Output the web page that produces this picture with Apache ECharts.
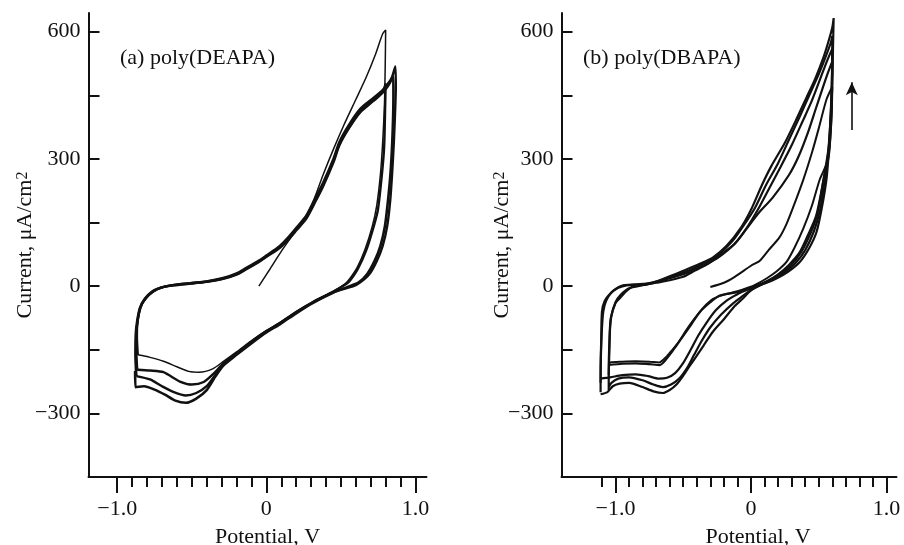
<!DOCTYPE html>
<html>
<head>
<meta charset="utf-8">
<script src="https://cdn.jsdelivr.net/npm/echarts@6/dist/echarts.min.js"></script>
<style>html,body{margin:0;padding:0;background:#fff;}#c{width:904px;height:545px;}</style>
</head>
<body>
<div id="c"></div>
<script>
// ---- tick values / labels ----
const yTickValues = [-300, -150, 0, 150, 300, 450, 600];
const yLabelValues = [-300, 0, 300, 600];
const xMajorValues = [-1.0, 0, 1.0];
const xMinorValuesA = [-1.0,-0.9,-0.8,-0.7,-0.6,-0.5,-0.4,-0.3,-0.2,-0.1,0,0.1,0.2,0.3,0.4,0.5,0.6,0.7,0.8,0.9,1.0];
const xMinorValuesB = [-1.1,-1.0,-0.9,-0.8,-0.7,-0.6,-0.5,-0.4,-0.3,-0.2,-0.1,0,0.1,0.2,0.3,0.4,0.5,0.6,0.7,0.8,0.9,1.0];
const panelTitles = ['(a) poly(DEAPA)', '(b) poly(DBAPA)'];
const arrowB = [[0.744, 368], [0.744, 481]];

// ---- panel (a) poly(DEAPA): potential V, current uA/cm2 ----
const loopA1 = [
[-0.05,0],[0.02,38],[0.10,82],[0.20,132],[0.27,168],[0.32,205],[0.38,262],[0.45,323],[0.52,380],[0.60,440],[0.67,493],[0.73,545],[0.78,595],[0.80,604],
[0.797,520],[0.792,430],[0.78,340],[0.765,264],[0.74,190],[0.71,141],[0.66,85],[0.61,45],[0.56,18],[0.53,6],
[0.45,-12],[0.31,-37],[0.20,-60],[0.09,-86],[0.0,-105],[-0.09,-126],[-0.20,-155],[-0.29,-178],[-0.36,-195],[-0.45,-203],[-0.52,-201],[-0.60,-190],[-0.69,-177],[-0.78,-168],[-0.862,-162]
];
const loopA2 = [
[-0.862,-162],[-0.868,-120],[-0.866,-90],[-0.855,-65],[-0.835,-42],[-0.805,-27],[-0.76,-12],[-0.70,-3],[-0.62,3],[-0.50,7],[-0.40,11],[-0.29,18],[-0.20,28],[-0.134,41],[-0.05,58],[0.0,70],[0.089,92],[0.15,113],[0.20,134],[0.268,162],[0.33,203],[0.38,238],[0.45,296],[0.49,335],[0.55,372],[0.63,412],[0.716,438],[0.78,458],[0.80,478],
[0.797,430],[0.79,330],[0.775,264],[0.748,180],[0.72,141],[0.67,85],[0.615,42],[0.565,15],[0.54,6],
[0.45,-13],[0.31,-38],[0.20,-61],[0.09,-87],[0.0,-106],[-0.09,-128],[-0.20,-158],[-0.29,-183],[-0.35,-205],[-0.42,-226],[-0.50,-232],[-0.58,-225],[-0.69,-203],[-0.78,-199],[-0.866,-197]
];
const loopA3 = [
[-0.866,-197],[-0.872,-150],[-0.87,-105],[-0.862,-80],[-0.845,-50],[-0.81,-29],[-0.76,-13],[-0.70,-3],[-0.62,2],[-0.50,6],[-0.40,10],[-0.29,17],[-0.20,27],[-0.134,40],[-0.05,57],[0.0,69],[0.089,90],[0.15,111],[0.20,131],[0.268,159],[0.33,200],[0.38,235],[0.45,292],[0.49,332],[0.55,370],[0.63,410],[0.716,436],[0.78,456],[0.83,480],[0.865,518],
[0.868,470],[0.865,428],[0.855,340],[0.843,264],[0.83,200],[0.81,141],[0.78,95],[0.74,59],[0.69,28],[0.63,9],[0.584,0],
[0.45,-14],[0.31,-39],[0.20,-62],[0.09,-88],[0.0,-107],[-0.09,-130],[-0.20,-160],[-0.29,-186],[-0.34,-208],[-0.40,-236],[-0.47,-252],[-0.54,-258],[-0.62,-250],[-0.70,-236],[-0.78,-220],[-0.872,-212]
];
const loopA4 = [
[-0.872,-212],[-0.878,-160],[-0.875,-110],[-0.865,-80],[-0.848,-52],[-0.815,-30],[-0.77,-14],[-0.71,-4],[-0.63,2],[-0.51,7],[-0.40,11],[-0.29,19],[-0.20,30],[-0.134,43],[-0.05,60],[0.0,72],[0.089,94],[0.15,116],[0.20,137],[0.268,166],[0.33,208],[0.38,243],[0.45,300],[0.49,340],[0.55,378],[0.63,418],[0.716,443],[0.78,462],[0.83,484],[0.85,496],
[0.852,450],[0.85,400],[0.843,330],[0.832,264],[0.815,200],[0.795,141],[0.765,95],[0.725,59],[0.675,28],[0.62,9],[0.575,2],
[0.45,-15],[0.31,-40],[0.20,-64],[0.09,-90],[0.0,-109],[-0.09,-132],[-0.20,-162],[-0.29,-188],[-0.34,-212],[-0.40,-245],[-0.47,-265],[-0.54,-275],[-0.61,-270],[-0.68,-256],[-0.75,-244],[-0.82,-236],[-0.878,-238],[-0.88,-200]
];

// ---- panel (b) poly(DBAPA) ----
const loopB1 = [
[-0.30,-2],[-0.20,8],[-0.12,22],[0.0,48],[0.065,60],[0.13,85],[0.21,115],[0.26,145],[0.31,185],[0.385,250],[0.45,315],[0.50,372],[0.557,440],[0.60,470],
[0.595,400],[0.58,330],[0.56,290],[0.508,252],[0.45,190],[0.385,135],[0.32,90],[0.262,57],[0.19,35],[0.114,18],[0.03,3],[-0.033,-5],[-0.10,-12],[-0.20,-20],[-0.28,-30],[-0.35,-50],[-0.42,-78],[-0.48,-105],[-0.53,-130],[-0.58,-150],[-0.62,-165],[-0.68,-180],[-0.75,-178],[-0.85,-177],[-0.95,-178],[-1.04,-180],[-1.05,-185]
];
const loopB2 = [
[-1.05,-210],[-1.045,-150],[-1.04,-100],[-1.03,-70],[-1.00,-38],[-0.96,-20],[-0.90,-5],[-0.80,2],[-0.70,8],[-0.60,14],[-0.50,22],[-0.43,34],[-0.33,50],[-0.23,73],[-0.12,100],[-0.033,135],[0.05,170],[0.163,210],[0.28,262],[0.35,305],[0.42,362],[0.48,420],[0.53,468],[0.57,505],[0.60,530],
[0.598,460],[0.59,380],[0.575,310],[0.53,240],[0.48,165],[0.42,120],[0.36,80],[0.28,50],[0.20,28],[0.12,12],[0.04,0],[-0.03,-6],[-0.10,-14],[-0.23,-22],[-0.30,-38],[-0.38,-62],[-0.44,-90],[-0.50,-117],[-0.55,-140],[-0.60,-162],[-0.673,-186],[-0.75,-184],[-0.85,-182],[-0.95,-183],[-1.05,-186]
];
const loopB3 = [
[-1.11,-228],[-1.108,-170],[-1.10,-100],[-1.09,-60],[-1.07,-35],[-1.03,-15],[-0.98,-4],[-0.92,2],[-0.80,4],[-0.68,12],[-0.56,22],[-0.45,34],[-0.33,52],[-0.24,68],[-0.12,100],[-0.03,138],[0.05,180],[0.13,228],[0.22,282],[0.30,332],[0.38,388],[0.45,438],[0.51,488],[0.56,530],[0.60,560],
[0.597,480],[0.588,400],[0.57,320],[0.535,252],[0.49,170],[0.44,125],[0.37,80],[0.29,48],[0.21,28],[0.13,13],[0.05,2],[-0.03,-9],[-0.10,-19],[-0.18,-34],[-0.26,-57],[-0.33,-87],[-0.39,-117],[-0.44,-147],[-0.50,-181],[-0.56,-205],[-0.62,-216],[-0.68,-218],[-0.76,-212],[-0.85,-208],[-0.95,-210],[-1.04,-215],[-1.11,-218]
];
const loopB4 = [
[-1.05,-245],[-1.05,-200],[-1.045,-130],[-1.035,-76],[-1.00,-40],[-0.97,-29],[-0.92,-12],[-0.87,-1],[-0.77,4],[-0.65,14],[-0.55,26],[-0.45,38],[-0.34,55],[-0.25,72],[-0.14,105],[-0.05,145],[0.03,185],[0.11,238],[0.20,290],[0.28,345],[0.36,400],[0.43,450],[0.50,500],[0.55,540],[0.59,575],[0.60,590],
[0.598,500],[0.59,420],[0.575,330],[0.545,252],[0.51,180],[0.465,130],[0.40,85],[0.33,55],[0.25,33],[0.17,17],[0.08,4],[0.0,-9],[-0.06,-23],[-0.13,-40],[-0.22,-67],[-0.30,-97],[-0.36,-127],[-0.42,-162],[-0.47,-192],[-0.53,-218],[-0.59,-232],[-0.65,-238],[-0.72,-232],[-0.80,-222],[-0.90,-215],[-0.98,-218],[-1.03,-228],[-1.05,-238]
];
const loopB5 = [
[-1.11,-250],[-1.11,-200],[-1.105,-120],[-1.10,-60],[-1.08,-35],[-1.04,-18],[-0.99,-5],[-0.944,2],[-0.85,4],[-0.73,8],[-0.60,23],[-0.485,38],[-0.36,55],[-0.28,68],[-0.18,95],[-0.07,140],[0.0,180],[0.08,238],[0.15,283],[0.25,338],[0.33,390],[0.41,445],[0.475,490],[0.53,535],[0.57,575],[0.60,610],[0.61,632],
[0.605,560],[0.60,480],[0.59,400],[0.575,320],[0.557,252],[0.52,180],[0.483,127],[0.43,90],[0.36,57],[0.27,33],[0.188,18],[0.10,6],[0.065,2],[0.0,-10],[-0.06,-29],[-0.12,-47],[-0.20,-78],[-0.28,-107],[-0.35,-140],[-0.40,-164],[-0.45,-187],[-0.50,-211],[-0.55,-232],[-0.60,-245],[-0.65,-252],[-0.72,-248],[-0.80,-238],[-0.90,-228],[-0.97,-230],[-1.02,-236],[-1.06,-250],[-1.11,-255]
];

const FONT = '"Liberation Serif", "Times New Roman", Times, serif';
const BLACK = '#111';
const fmt = v => (v < 0 ? '\u2212' + Math.abs(v) : String(v));
const fmtX = v => (v === 0 ? '0' : (v < 0 ? '\u2212' : '') + Math.abs(v).toFixed(1));

function mainX(grid, min, max, namePad) {
  return {
    type: 'value', gridIndex: grid, min: min, max: max, position: 'bottom',
    name: 'Potential, V', nameLocation: 'middle', nameGap: 49, nameMoveOverlap: false,
    nameTextStyle: { fontFamily: FONT, fontSize: 22, color: BLACK, padding: namePad },
    axisLine: { show: true, onZero: false, lineStyle: { color: BLACK, width: 2 } },
    axisTick: { show: true, inside: false, length: 16, lineStyle: { color: BLACK, width: 2 }, customValues: xMajorValues },
    axisLabel: { show: true, margin: 21, fontFamily: FONT, fontSize: 22, color: BLACK, customValues: xMajorValues, formatter: fmtX },
    splitLine: { show: false }
  };
}
function minorX(grid, min, max, vals) {
  return {
    type: 'value', gridIndex: grid, min: min, max: max, position: 'bottom',
    axisLine: { show: false, onZero: false },
    axisTick: { show: true, inside: false, length: 10, lineStyle: { color: BLACK, width: 2 }, customValues: vals },
    axisLabel: { show: false },
    splitLine: { show: false }
  };
}
function mainY(grid, gap) {
  return {
    type: 'value', gridIndex: grid, min: -450, max: 644,
    name: 'Current, \u03bcA/cm{sup|2}', nameLocation: 'middle', nameGap: gap, nameMoveOverlap: false,
    nameTextStyle: { fontFamily: FONT, fontSize: 22, color: BLACK,
      rich: { sup: { fontFamily: FONT, fontSize: 16, color: BLACK, verticalAlign: 'top', lineHeight: 22 } } },
    axisLine: { show: true, onZero: false, lineStyle: { color: BLACK, width: 2 } },
    axisTick: { show: true, inside: true, length: 11, lineStyle: { color: BLACK, width: 2 }, customValues: yTickValues },
    axisLabel: { show: true, margin: 8, fontFamily: FONT, fontSize: 22, color: BLACK, customValues: yLabelValues, formatter: fmt },
    splitLine: { show: false }
  };
}
function loop(data, xi, yi, w) {
  return {
    type: 'line', data: data, xAxisIndex: xi, yAxisIndex: yi,
    showSymbol: false, symbol: 'none', smooth: 0.25, clip: false,
    lineStyle: { color: BLACK, width: w }, silent: true
  };
}

const chart = echarts.init(document.getElementById('c'), null, { renderer: 'canvas' });
const seriesB5 = loop(loopB5, 2, 1, 2.2);
seriesB5.markLine = {
  silent: true, symbol: ['none', 'arrow'], symbolSize: [9, 13], label: { show: false },
  lineStyle: { color: BLACK, width: 1.6, type: 'solid' },
  data: [[{ coord: arrowB[0] }, { coord: arrowB[1] }]]
};
chart.setOption({
  animation: false,
  backgroundColor: '#fff',
  title: [
    { text: panelTitles[0], left: 120, top: 47, padding: 0, textStyle: { fontFamily: FONT, fontSize: 22, fontWeight: 'normal', color: BLACK } },
    { text: panelTitles[1], left: 583, top: 47, padding: 0, textStyle: { fontFamily: FONT, fontSize: 22, fontWeight: 'normal', color: BLACK } }
  ],
  grid: [
    { left: 88.5, top: 13, width: 338, height: 464, outerBoundsMode: 'none', containLabel: false },
    { left: 561.5, top: 13, width: 335, height: 464, outerBoundsMode: 'none', containLabel: false }
  ],
  xAxis: [
    mainX(0, -1.1926, 1.0738, [0, 0, 0, 20]),
    minorX(0, -1.1926, 1.0738, xMinorValuesA),
    mainX(1, -1.3985, 1.0738, [0, 0, 0, 58]),
    minorX(1, -1.3985, 1.0738, xMinorValuesB)
  ],
  yAxis: [mainY(0, 52), mainY(1, 48)],
  series: [
    loop(loopA1, 0, 0, 1.5),
    loop(loopA2, 0, 0, 2.4),
    loop(loopA3, 0, 0, 2.4),
    loop(loopA4, 0, 0, 2.6),
    loop(loopB1, 2, 1, 2.0),
    loop(loopB2, 2, 1, 2.2),
    loop(loopB3, 2, 1, 2.2),
    loop(loopB4, 2, 1, 2.2),
    seriesB5
  ]
});
</script>
</body>
</html>
